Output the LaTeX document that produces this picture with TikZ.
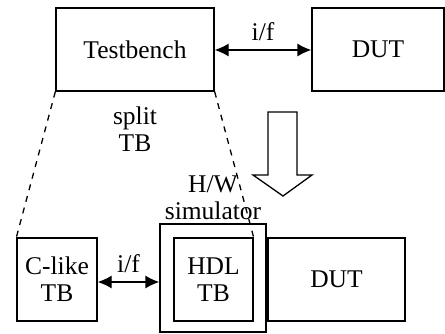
\documentclass[tikz,border=0pt]{standalone}
\usepackage{fontspec}
\setmainfont{Liberation Serif}
\usetikzlibrary{arrows.meta,positioning}

\begin{document}
\begin{tikzpicture}[x=1pt,y=-1pt,
  block/.style={rectangle,draw,line width=1.3pt,inner sep=0pt,align=center,
    font=\fontsize{25.5}{27}\selectfont},
  lbl/.style={align=center,font=\fontsize{25.5}{27}\selectfont,inner sep=0pt},
  link/.style={{Latex[length=14pt,width=13pt]}-{Latex[length=14pt,width=13pt]},line width=1.3pt},
  split/.style={dashed,dash pattern=on 6pt off 6pt,line width=1.3pt}]
  \useasboundingbox (0,0) rectangle (445,333);
  % top row
  \node[block,minimum width=158pt,minimum height=83pt] (tb) at (135,49.5) {Testbench};
  \node[block,minimum width=132pt,minimum height=83pt] (dut) at (378,49.5) {DUT};
  \draw[link] (tb.east|-0,50) -- (dut.west|-0,50) node[lbl,midway,above=9pt] (ifa) {i/f};
  \node[lbl] (spl) at (135,129) {split\\TB};

  % block arrow
  \draw[line width=1.3pt] (268,112) -- (297,112) -- (297,175) -- (312,175)
    -- (283,196) -- (253,175) -- (268,175) -- cycle;

  % bottom row
  \node[block,minimum width=106pt,minimum height=108pt] (hws) at (213,278) {};
  \node[block,minimum width=80pt,minimum height=83pt] (clike) at (57,279.5) {C-like\\TB};
  \node[block,minimum width=79pt,minimum height=83pt] (hdl) at (213.5,279.5) {HDL\\TB};
  \node[block,minimum width=137pt,minimum height=83pt] (dutb) at (336.5,279.5) {DUT};
  \node[lbl,above=3pt of hws.north] (hwl) {H/W\\simulator};
  \draw[link] (clike.east|-0,282) -- (hws.west|-0,282) node[lbl,midway,above=9pt] (ifb) {i/f};

  \draw[split] (tb.south west) -- (clike.north west);
  \draw[split] (tb.south east) -- (hdl.north east);
\end{tikzpicture}
\end{document}
